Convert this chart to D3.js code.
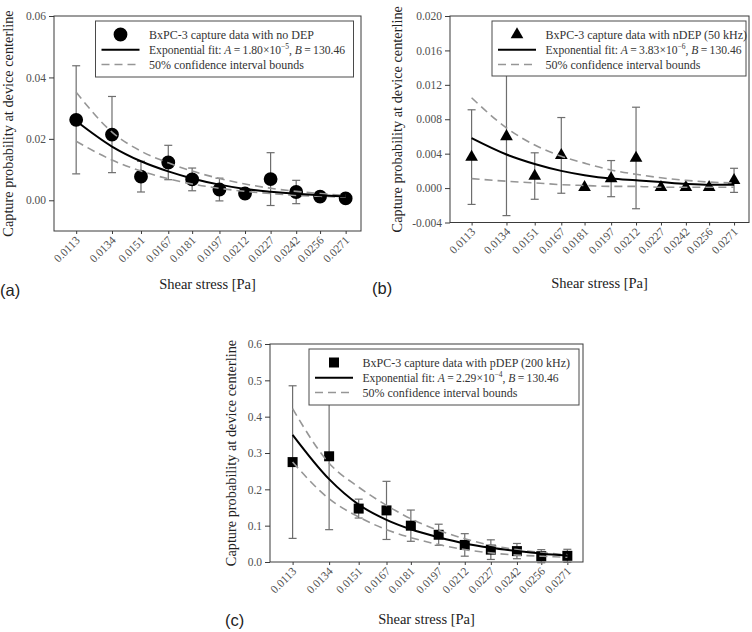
<!DOCTYPE html>
<html>
<head>
<meta charset="utf-8">
<script src="https://cdn.jsdelivr.net/npm/d3@7/dist/d3.min.js"></script>
<style>
html,body{margin:0;padding:0;background:#fff;}
svg{display:block;}
</style>
</head>
<body>
<svg id="chart" width="752" height="632"></svg>
<script>
// ---------- data ----------
const shear = [0.0113, 0.0134, 0.0151, 0.0167, 0.0181, 0.0197, 0.0212, 0.0227, 0.0242, 0.0256, 0.0271];
const shearLabels = ["0.0113","0.0134","0.0151","0.0167","0.0181","0.0197","0.0212","0.0227","0.0242","0.0256","0.0271"];

// (a) no DEP
const noDepMean  = [0.0262, 0.0214, 0.0077, 0.0123, 0.0068, 0.0035, 0.0022, 0.0069, 0.0027, 0.0012, 0.0006];
const noDepErr   = [0.0176, 0.0124, 0.0050, 0.0056, 0.0037, 0.0037, 0.0014, 0.0086, 0.0038, 0.0010, 0.0004];
const noDepFit   = [0.0258, 0.0175, 0.0127, 0.0094, 0.0071, 0.0051, 0.0037, 0.0028, 0.0021, 0.0016, 0.0012];
const noDepUpper = [0.0352, 0.0222, 0.0160, 0.0122, 0.0095, 0.0071, 0.0053, 0.0039, 0.0029, 0.0022, 0.0016];
const noDepLower = [0.0192, 0.0131, 0.0095, 0.0070, 0.0053, 0.0039, 0.0029, 0.0022, 0.0016, 0.0013, 0.0010];

// (b) nDEP 50 kHz
const nDepMean  = [0.0036, 0.0060, 0.0014, 0.0038, 0.0001, 0.0011, 0.0035, 0.0001, 0.0001, 0.0001, 0.0009];
const nDepErr   = [0.0055, 0.0092, 0.0027, 0.0044, 0.0000, 0.0021, 0.0059, 0.0000, 0.0000, 0.0000, 0.0014];
const nDepFit   = [0.0058, 0.0039, 0.0028, 0.0020, 0.0015, 0.0011, 0.0009, 0.0007, 0.0005, 0.0004, 0.0004];
const nDepUpper = [0.0105, 0.0070, 0.0050, 0.0037, 0.0029, 0.0021, 0.0016, 0.0012, 0.0009, 0.0007, 0.0006];
const nDepLower = [0.0011, 0.0008, 0.0006, 0.0004, 0.0003, 0.0002, 0.0002, 0.0001, 0.0001, 0.0001, 0.0001];

// (c) pDEP 200 kHz
const pDepMean  = [0.275, 0.291, 0.147, 0.142, 0.100, 0.075, 0.047, 0.034, 0.030, 0.016, 0.017];
const pDepErr   = [0.210, 0.202, 0.026, 0.080, 0.043, 0.029, 0.031, 0.027, 0.021, 0.018, 0.018];
const pDepFit   = [0.350, 0.228, 0.158, 0.116, 0.090, 0.068, 0.051, 0.039, 0.030, 0.023, 0.018];
const pDepUpper = [0.422, 0.272, 0.206, 0.156, 0.119, 0.087, 0.064, 0.046, 0.034, 0.026, 0.020];
const pDepLower = [0.275, 0.174, 0.124, 0.089, 0.067, 0.048, 0.034, 0.025, 0.019, 0.016, 0.013];

const ticksA = [0, 0.02, 0.04, 0.06];
const ticksB = [-0.004, 0, 0.004, 0.008, 0.012, 0.016, 0.020];
const ticksC = [0, 0.1, 0.2, 0.3, 0.4, 0.5, 0.6];

const legendDataA = "BxPC-3 capture data with no DEP";
const legendDataB = "BxPC-3 capture data with nDEP (50 kHz)";
const legendDataC = "BxPC-3 capture data with pDEP (200 kHz)";
const fitA = ["1.80×10", "−5"];
const fitB = ["3.83×10", "−6"];
const fitC = ["2.29×10", "−4"];
const ciLabel = "50% confidence interval bounds";
const yTitle = "Capture probability at device centerline";
const xTitle = "Shear stress [Pa]";

// ---------- drawing ----------
const svg = d3.select("#chart");
const SERIF = "'Liberation Serif','Times New Roman',serif";
const FRAME = "#3a3a3a";

function panel(cfg) {
  const g = svg.append("g");
  const x = d3.scaleLinear().domain([0.010, 0.028]).range([cfg.left, cfg.right]);
  const y = d3.scaleLinear().domain(cfg.yDomain).range([cfg.bottom, cfg.top]);

  // frame
  g.append("rect").attr("x", cfg.left).attr("y", cfg.top)
    .attr("width", cfg.right - cfg.left).attr("height", cfg.bottom - cfg.top)
    .attr("fill", "none").attr("stroke", FRAME).attr("stroke-width", 1);

  // y axis
  const yAxis = d3.axisLeft(y).tickValues(cfg.ticks).tickFormat(d3.format(cfg.fmt)).tickSize(5).tickPadding(3);
  const ya = g.append("g").attr("transform", `translate(${cfg.left},0)`).call(yAxis);
  ya.select(".domain").remove();
  ya.selectAll("line").attr("stroke", FRAME);
  ya.selectAll("text").attr("font-family", SERIF).attr("font-size", 11.5).attr("fill", "#505050")
    .text(d => d3.format(cfg.fmt)(d).replace("−", "-"));

  // x axis
  const xAxis = d3.axisBottom(x).tickValues(shear).tickFormat((d, i) => shearLabels[i]).tickSize(3);
  const xa = g.append("g").attr("transform", `translate(0,${cfg.bottom})`).call(xAxis);
  xa.select(".domain").remove();
  xa.selectAll("line").attr("stroke", FRAME);
  xa.selectAll("text").attr("font-family", SERIF).attr("font-size", 11.5).attr("fill", "#505050")
    .attr("text-anchor", "end").attr("dy", null).attr("y", null)
    .attr("transform", "translate(4,10) rotate(-45)");

  // error bars
  const eb = g.append("g").attr("stroke", "#6e6e6e").attr("stroke-width", 1.2).attr("fill", "none");
  shear.forEach((s, i) => {
    const e = cfg.err[i];
    if (e <= 0) return;
    const m = cfg.mean[i];
    const x0 = x(s), y1 = y(m + e), y2 = y(m - e);
    eb.append("line").attr("x1", x0).attr("x2", x0).attr("y1", y1).attr("y2", y2);
    eb.append("line").attr("x1", x0 - 4).attr("x2", x0 + 4).attr("y1", y1).attr("y2", y1);
    eb.append("line").attr("x1", x0 - 4).attr("x2", x0 + 4).attr("y1", y2).attr("y2", y2);
  });

  // markers
  const sym = d3.symbol().type(cfg.symbol).size(cfg.symSize);
  g.append("g").selectAll("path").data(shear).join("path")
    .attr("d", sym)
    .attr("transform", (d, i) => `translate(${x(d)},${y(cfg.mean[i])})`)
    .attr("fill", "#000");

  // lines
  const line = arr => d3.line().x(d => x(d)).y((d, i) => y(arr[i])).curve(d3.curveMonotoneX)(shear);
  [cfg.upper, cfg.lower].forEach(arr => {
    g.append("path").attr("d", line(arr)).attr("fill", "none")
      .attr("stroke", "#969696").attr("stroke-width", 1.6).attr("stroke-dasharray", "8,5");
  });
  g.append("path").attr("d", line(cfg.fit)).attr("fill", "none")
    .attr("stroke", "#000").attr("stroke-width", 2);

  // legend
  const L = cfg.legend;
  const lg = g.append("g").attr("transform", `translate(${L.x},${L.y})`);
  lg.append("rect").attr("width", L.w).attr("height", L.h).attr("fill", "#fff")
    .attr("stroke", "#4a4a4a").attr("stroke-width", 1);
  const rows = [13.5, 28.8, 43.5];
  lg.append("path").attr("d", d3.symbol().type(cfg.symbol).size(cfg.symSize)())
    .attr("transform", `translate(25,${rows[0]})`).attr("fill", "#000");
  lg.append("line").attr("x1", 6).attr("x2", 44).attr("y1", rows[1]).attr("y2", rows[1])
    .attr("stroke", "#000").attr("stroke-width", 2);
  lg.append("line").attr("x1", 6).attr("x2", 44).attr("y1", rows[2]).attr("y2", rows[2])
    .attr("stroke", "#969696").attr("stroke-width", 1.6).attr("stroke-dasharray", "8,5");
  const tx = 53.5;
  const txt = (yy, fs) => lg.append("text").attr("x", tx).attr("y", yy).attr("dy", "0.35em")
    .attr("font-family", SERIF).attr("font-size", fs).attr("fill", "#333");
  txt(rows[0], 12).text(cfg.dataLabel);
  const t2 = txt(rows[1], 11.6);
  t2.append("tspan").text("Exponential fit: ");
  t2.append("tspan").attr("font-style", "italic").text("A");
  t2.append("tspan").text("\u2009=\u2009" + cfg.fitText[0]);
  t2.append("tspan").attr("font-size", 7.5).attr("dy", -4.5).text(cfg.fitText[1]);
  t2.append("tspan").attr("dy", 4.5).text(", ");
  t2.append("tspan").attr("font-style", "italic").text("B");
  t2.append("tspan").text("\u2009=\u2009130.46");
  txt(rows[2], 12).text(ciLabel);

  // axis titles
  g.append("text").attr("transform", `translate(${cfg.yTitleX},${(cfg.top + cfg.bottom) / 2}) rotate(-90)`)
    .attr("text-anchor", "middle").attr("font-family", SERIF).attr("font-size", 14.3).attr("fill", "#222")
    .text(yTitle);
  g.append("text").attr("x", (cfg.left + cfg.right) / 2).attr("y", cfg.xTitleY)
    .attr("text-anchor", "middle").attr("font-family", SERIF).attr("font-size", 14.5).attr("fill", "#222")
    .text(xTitle);
  g.append("text").attr("x", cfg.labelX).attr("y", cfg.labelY)
    .attr("font-family", "'Liberation Sans',Arial,sans-serif").attr("font-size", 16.5).attr("fill", "#222")
    .text(cfg.label);
}

panel({
  left: 54, right: 361, top: 16, bottom: 231, yDomain: [-0.01, 0.06], ticks: ticksA, fmt: ".2f",
  mean: noDepMean, err: noDepErr, fit: noDepFit, upper: noDepUpper, lower: noDepLower,
  symbol: d3.symbolCircle, symSize: 150,
  legend: { x: 95.5, y: 21, w: 258, h: 56 }, dataLabel: legendDataA, fitText: fitA,
  yTitleX: 13, xTitleY: 289, label: "(a)", labelX: 0, labelY: 296
});
panel({
  left: 450, right: 749, top: 16, bottom: 222.5, yDomain: [-0.004, 0.020], ticks: ticksB, fmt: ".3f",
  mean: nDepMean, err: nDepErr, fit: nDepFit, upper: nDepUpper, lower: nDepLower,
  symbol: d3.symbolTriangle, symSize: 70,
  legend: { x: 492, y: 21, w: 254, h: 55 }, dataLabel: legendDataB, fitText: fitB,
  yTitleX: 402, xTitleY: 288, label: "(b)", labelX: 372, labelY: 294
});
panel({
  left: 270, right: 583, top: 344, bottom: 562, yDomain: [0, 0.6], ticks: ticksC, fmt: ".1f",
  mean: pDepMean, err: pDepErr, fit: pDepFit, upper: pDepUpper, lower: pDepLower,
  symbol: d3.symbolSquare, symSize: 100,
  legend: { x: 309, y: 349, w: 270, h: 56 }, dataLabel: legendDataC, fitText: fitC,
  yTitleX: 236, xTitleY: 624, label: "(c)", labelX: 225, labelY: 626
});
</script>
</body>
</html>
